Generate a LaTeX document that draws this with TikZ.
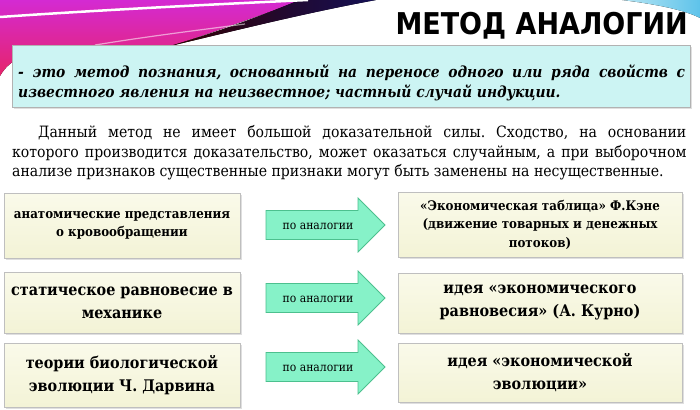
\documentclass[tikz,border=0pt]{standalone}
\usepackage{fontspec}
\setmainfont{DejaVu Serif Condensed}
\newfontfamily\titlefont{DejaVu Sans}
\usetikzlibrary{shadows}
\frenchspacing
\definecolor{swtop}{HTML}{D42AD2}
\definecolor{swbot}{HTML}{E6246A}
\definecolor{navy}{HTML}{141055}
\definecolor{defcyan}{HTML}{CCF4F3}
\definecolor{boxfill}{HTML}{F3F3D6}
\definecolor{boxtop}{HTML}{FAFAEA}
\definecolor{arrfill}{HTML}{86F2C8}
\definecolor{arredge}{HTML}{4CC08E}
\definecolor{skyA}{HTML}{B8E6F4}
\definecolor{skyB}{HTML}{5EC3EA}
\tikzset{
  beigebox/.style={draw=black!25, line width=0.8pt, top color=boxtop, bottom color=boxfill,
    drop shadow={shadow xshift=2pt, shadow yshift=-2pt, opacity=0.25},
    align=center, inner sep=3pt},
  bigtxt/.style={font=\bfseries\fontsize{16}{23}\selectfont},
  smalltxt/.style={font=\bfseries\fontsize{13.2}{18.5}\selectfont},
  blockarr/.style={draw=arredge, line width=0.8pt, fill=arrfill, line join=miter},
  arrlabel/.style={font=\fontsize{12}{14}\selectfont, inner sep=0pt},
  paraline/.style={anchor=base west, inner sep=0pt, font=\fontsize{15.6}{18}\selectfont},
  defline/.style={anchor=base west, inner sep=0pt, font=\bfseries\itshape\fontsize{15.4}{18}\selectfont},
}
\begin{document}
\begin{tikzpicture}[x=1pt,y=-1pt]
\useasboundingbox (0,0) rectangle (700,409);
\fill[white] (0,0) rectangle (700,409);
% decorative swoosh
\fill[top color=swtop, bottom color=swbot] (0,0) -- (305,0) .. controls (250,18) and (215,32) .. (174,45) -- (70,48) .. controls (30,50) and (10,58) .. (0,76) -- cycle;
\fill[left color=black!80!red, right color=navy] (170,46) .. controls (225,30) and (265,14) .. (300,0) -- (376,0) .. controls (300,14) and (230,32) .. (170,46) -- cycle;
\draw[white, line width=2.5pt] (0,17) .. controls (100,10) and (220,4) .. (308,0);
\draw[white, opacity=0.55, line width=1.2pt] (95,45) .. controls (150,36) and (200,30) .. (245,24);
\fill[left color=skyA, right color=skyB] (622,0) .. controls (655,4) and (685,10) .. (700,18) -- (700,0) -- cycle;
% title
\node[font=\titlefont\bfseries\fontsize{30}{34}\selectfont, anchor=base east, inner sep=0pt] (title) at (688,35) {\scalebox{0.9}[1]{МЕТОД АНАЛОГИИ}};
% definition box
\node[draw=black!30, line width=0.8pt, fill=defcyan, drop shadow={shadow xshift=2pt, shadow yshift=-2pt, opacity=0.25},
  minimum width=678pt, minimum height=62pt, anchor=north west, inner sep=0pt] (defbox) at (12,45) {};
\node[defline] (d1) at (18,78) {\makebox[667pt][s]{- это метод познания, основанный на переносе одного или ряда свойств с}};
\node[defline] (d2) at (18,98) {известного явления на неизвестное; частный случай индукции.};
% paragraph
\node[paraline] (p1) at (38,137) {\makebox[648pt][s]{Данный метод не имеет большой доказательной силы. Сходство, на основании}};
\node[paraline] (p2) at (12,157) {\makebox[674pt][s]{которого производится доказательство, может оказаться случайным, а при выборочном}};
\node[paraline] (p3) at (12,176) {анализе признаков существенные признаки могут быть заменены на несущественные.};
% left boxes
\node[beigebox, smalltxt, minimum width=236pt, minimum height=65pt] (l1) at (122,225.5)
  {анатомические представления\\о кровообращении};
\node[beigebox, bigtxt, minimum width=236pt, minimum height=61pt] (l2) at (122,302.5)
  {статическое равновесие в\\механике};
\node[beigebox, bigtxt, minimum width=236pt, minimum height=64pt] (l3) at (122,375)
  {теории биологической\\эволюции Ч. Дарвина};
% right boxes
\node[beigebox, smalltxt, minimum width=284pt, minimum height=65pt] (r1) at (540,224.5)
  {«Экономическая таблица» Ф.Кэне\\(движение товарных и денежных\\потоков)};
\node[beigebox, bigtxt, minimum width=284pt, minimum height=60pt] (r2) at (540,303)
  {идея «экономического\\равновесия» (А. Курно)};
\node[beigebox, bigtxt, minimum width=284pt, minimum height=59pt] (r3) at (540,372.5)
  {идея «экономической\\эволюции»};
% block arrows
\foreach \c/\n in {225/1,298/2,367/3}{
  \draw[blockarr] (266,\c-14.5) -- (358,\c-14.5) -- (358,\c-27) -- (385,\c) -- (358,\c+27) -- (358,\c+14.5) -- (266,\c+14.5) -- cycle;
  \node[arrlabel] (a\n) at (318,\c+1) {по аналогии};
}
\end{tikzpicture}
\end{document}
